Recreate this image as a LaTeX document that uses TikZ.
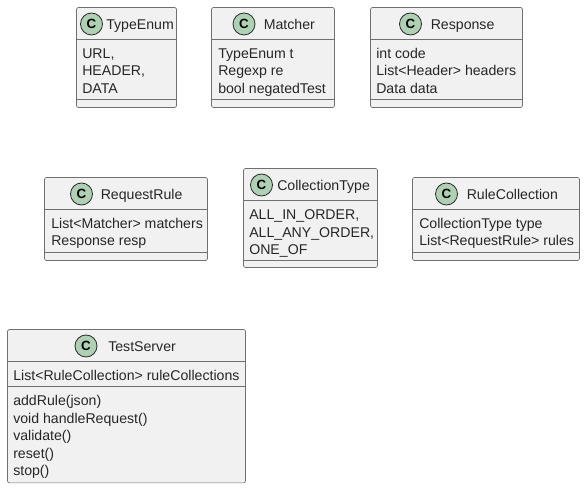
\documentclass[tikz,border=0pt]{standalone}
\usepackage{fontspec}
\setmainfont{Liberation Sans}
\definecolor{boxfill}{HTML}{F1F1F1}
\definecolor{boxline}{HTML}{707070}
\definecolor{iconfill}{HTML}{ADD1B2}
\definecolor{iconline}{HTML}{2A2A2A}
\tikzset{
  classbox/.style={draw=boxline, fill=boxfill, line width=0.5pt, rounded corners=1.5pt, anchor=north west, inner sep=0pt, outer sep=0pt},
  classicon/.style={circle, draw=iconline, fill=iconfill, line width=0.6pt, minimum size=16.5pt, inner sep=0pt, font=\fontsize{10}{10}\selectfont\bfseries},
  classname/.style={anchor=base west, inner sep=0pt, text=black!85, font=\fontsize{10.6}{10.6}\selectfont},
  classtext/.style={anchor=base west, inner sep=0pt, align=left, text=black!85, font=\fontsize{10.6}{13.2}\selectfont},
  divider/.style={draw=boxline, line width=0.5pt},
}
\begin{document}
\begin{tikzpicture}[x=0.75pt, y=-0.75pt]
  \useasboundingbox (0,0) rectangle (585,488);
  % first row
  \node[classbox, minimum width=75pt, minimum height=75pt] (TYPE) at (76.5,7.5) {};
  \draw[divider] (TYPE.west |- 0,39.5) -- (TYPE.east |- 0,39.5);
  \draw[divider] (TYPE.west |- 0,99.5) -- (TYPE.east |- 0,99.5);
  \node[classicon] (TYPEC) at (91.5,24) {C};
  \node[classname] (TYPEN) at (106,29.4) {TypeEnum};
  \node[classtext] (TYPET) at (82,93.6) {URL,\\HEADER,\\DATA};

  \node[classbox, minimum width=92.25pt, minimum height=75pt] (MATCH) at (211.5,7.5) {};
  \draw[divider] (MATCH.west |- 0,39.5) -- (MATCH.east |- 0,39.5);
  \draw[divider] (MATCH.west |- 0,99.5) -- (MATCH.east |- 0,99.5);
  \node[classicon] (MATCHC) at (244,24) {C};
  \node[classname] (MATCHN) at (263.5,29.4) {Matcher};
  \node[classtext] (MATCHT) at (218,93.6) {TypeEnum t\\Regexp re\\bool negatedTest};

  \node[classbox, minimum width=114pt, minimum height=75pt] (RESP) at (370.5,7.5) {};
  \draw[divider] (RESP.west |- 0,39.5) -- (RESP.east |- 0,39.5);
  \draw[divider] (RESP.west |- 0,99.5) -- (RESP.east |- 0,99.5);
  \node[classicon] (RESPC) at (410.5,24) {C};
  \node[classname] (RESPN) at (430.5,29.4) {Response};
  \node[classtext] (RESPT) at (376,93.6) {int code\\List<Header> headers\\Data data};

  % second row
  \node[classbox, minimum width=122.25pt, minimum height=62.25pt] (RULE) at (44.5,177.5) {};
  \draw[divider] (RULE.west |- 0,209.5) -- (RULE.east |- 0,209.5);
  \draw[divider] (RULE.west |- 0,252.5) -- (RULE.east |- 0,252.5);
  \node[classicon] (RULEC) at (81.5,194) {C};
  \node[classname] (RULEN) at (100.5,199.4) {RequestRule};
  \node[classtext] (RULET) at (51,246) {List<Matcher> matchers\\Response resp};

  \node[classbox, minimum width=100.5pt, minimum height=74.25pt] (COLL) at (243.5,168.5) {};
  \draw[divider] (COLL.west |- 0,200.5) -- (COLL.east |- 0,200.5);
  \draw[divider] (COLL.west |- 0,260.5) -- (COLL.east |- 0,260.5);
  \node[classicon] (COLLC) at (261.5,185) {C};
  \node[classname] (COLLN) at (277,190.4) {CollectionType};
  \node[classtext] (COLLT) at (249,254.8) {ALL\_IN\_ORDER,\\ALL\_ANY\_ORDER,\\ONE\_OF};

  \node[classbox, minimum width=125.25pt, minimum height=62.25pt] (RCOLL) at (412.5,177.5) {};
  \draw[divider] (RCOLL.west |- 0,209.5) -- (RCOLL.east |- 0,209.5);
  \draw[divider] (RCOLL.west |- 0,252.5) -- (RCOLL.east |- 0,252.5);
  \node[classicon] (RCOLLC) at (446.5,194) {C};
  \node[classname] (RCOLLN) at (466.5,199.4) {RuleCollection};
  \node[classtext] (RCOLLT) at (419,246) {CollectionType type\\List<RequestRule> rules};

  % server, with methods
  \node[classbox, minimum width=178.5pt, minimum height=115pt] (SERV) at (7.5,329.5) {};
  \draw[divider] (SERV.west |- 0,361.5) -- (SERV.east |- 0,361.5);
  \draw[divider] (SERV.west |- 0,386.5) -- (SERV.east |- 0,386.5);
  \node[classicon] (SERVC) at (86,346) {C};
  \node[classname] (SERVN) at (108,351.4) {TestServer};
  \node[classtext] (SERVT) at (13,380.4) {List<RuleCollection> ruleCollections};
  \node[classtext] (SERVM) at (13,475.8) {addRule(json)\\void handleRequest()\\validate()\\reset()\\stop()};
\end{tikzpicture}
\end{document}
